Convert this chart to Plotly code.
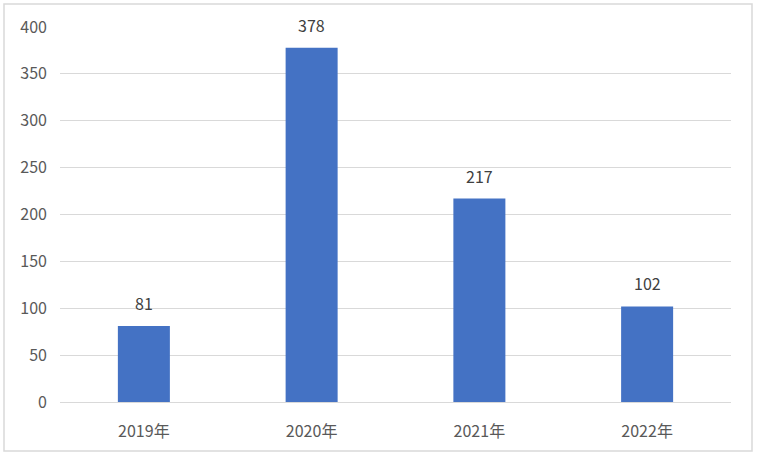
import plotly.graph_objects as go

years = ["2019年", "2020年", "2021年", "2022年"]
counts = [81, 378, 217, 102]
y_ticks = [0, 50, 100, 150, 200, 250, 300, 350, 400]

W, H = 757, 457
left, right, top, bottom = 60, 26, 27, 55
pw = W - left - right
ph = H - top - bottom


def px_x(x):
    return (x - left) / pw


def px_y(y):
    return (H - bottom - y) / ph


fig = go.Figure()
fig.add_trace(go.Bar(
    x=years, y=counts,
    marker=dict(color="#4472C4", line=dict(width=0)),
    width=0.31,
    hoverinfo="x+y",
))

# value labels sit a bit higher than plotly's "outside" text
for yr, c in zip(years, counts):
    fig.add_annotation(x=yr, y=c, text=str(c), showarrow=False,
                       yanchor="middle", yshift=23,
                       font=dict(size=16, color="#404040"))

# outer chart frame
fig.add_shape(type="rect", xref="paper", yref="paper",
              x0=px_x(4), x1=px_x(752), y0=px_y(451), y1=px_y(4),
              line=dict(color="#d9d9d9", width=1.5), layer="below")

fig.update_layout(
    width=W, height=H,
    margin=dict(l=left, r=right, t=top, b=bottom),
    plot_bgcolor="white", paper_bgcolor="white",
    font=dict(family="Noto Sans CJK SC, Noto Sans, sans-serif", size=16, color="#595959"),
    showlegend=False,
    bargap=0.69,
)
fig.update_xaxes(showline=False, showgrid=False, ticks="", tickfont=dict(size=16),
                 ticklabelstandoff=18)
fig.update_yaxes(range=[0, 400], tickvals=y_ticks, showgrid=True, gridcolor="#d9d9d9",
                 gridwidth=1, zeroline=True, zerolinecolor="#d9d9d9", zerolinewidth=1,
                 showline=False, ticks="", ticklabelstandoff=12, tickfont=dict(size=16))

# drop the default page margin so the figure sits at the window corner
fig.write_html("out.html", config={"displayModeBar": False},
               post_script="document.body.style.margin='0';document.body.style.overflow='hidden';")
